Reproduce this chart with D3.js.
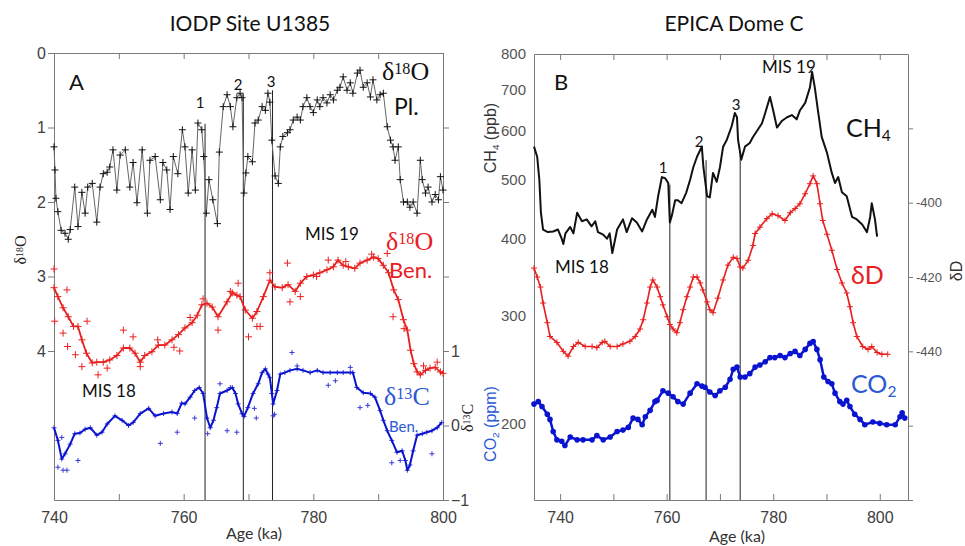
<!DOCTYPE html>
<html>
<head>
<meta charset="utf-8">
<script src="https://cdn.jsdelivr.net/npm/d3@7"></script>
<style>
  body { margin: 0; background: #fff; }
  text { font-family: "Liberation Sans", Arial, sans-serif; }
  .cal { font-family: Lato, "Open Sans", sans-serif; }
  .ser { font-family: "Liberation Serif", "Times New Roman", serif; }
</style>
</head>
<body>
<div id="chart"></div>
<script>
// ---------- Panel A: IODP Site U1385 (age ka, value) ----------
const plankO18 = [
  [740.0,1.26],[740.15,1.57],[740.3,1.95],[740.6,2.13],[741.1,2.38],[741.7,2.42],[742.2,2.5],[742.5,2.37],
  [743.2,1.8],[743.7,2.33],[744.3,1.87],[744.8,2.15],[745.2,1.8],[745.9,1.75],[746.6,2.27],[747.1,1.8],
  [747.6,1.62],[748.2,1.6],[748.6,1.53],[749.1,1.3],[749.7,1.84],[750.2,1.37],[751.0,1.3],[751.7,1.8],
  [752.2,1.47],[752.8,2.01],[753.6,1.3],[754.4,2.15],[754.8,1.44],[755.6,1.39],[756.4,1.97],[756.8,1.47],
  [757.4,1.57],[757.9,2.1],[758.4,1.39],[759.1,1.62],[759.8,1.03],[760.2,1.26],[760.7,1.88],[761.3,1.3],
  [761.8,1.84],[762.2,0.94],[762.8,1.03],[763.1,1.39],[763.5,2.15],[763.9,1.7],[764.5,1.97],[765.2,2.29],
  [765.5,1.33],[766.1,0.72],[766.7,0.56],[767.2,0.72],[767.6,0.99],[768.2,0.6],[768.7,0.54],[769.0,0.6],
  [769.3,1.88],[769.6,1.61],[769.9,1.39],[770.6,1.46],[771.0,0.94],[771.5,0.9],[772.1,0.72],[772.6,0.77],
  [773.0,0.54],[773.3,0.66],[773.6,1.17],[774.1,1.65],[774.6,1.75],[774.9,1.26],[775.3,1.12],[776.0,1.07],
  [776.4,1.03],[776.9,0.9],[777.5,0.86],[778.0,0.9],[778.4,0.72],[779.0,0.6],[779.5,0.72],[780.0,0.8],
  [780.6,0.63],[781.0,0.72],[781.5,0.6],[782.1,0.67],[782.6,0.56],[783.1,0.63],[783.7,0.5],[784.1,0.46],
  [784.6,0.32],[785.2,0.5],[785.7,0.4],[786.1,0.54],[786.8,0.27],[787.2,0.23],[787.7,0.46],[788.3,0.4],
  [788.8,0.59],[789.2,0.36],[789.8,0.63],[790.3,0.56],[790.8,0.54],[791.4,0.99],[791.9,1.17],[792.3,1.26],
  [792.6,1.44],[793.1,1.26],[793.4,1.7],[793.9,2.0],[794.5,2.0],[794.9,2.07],[795.4,2.0],[796.0,2.15],
  [796.5,1.44],[796.8,1.7],[797.3,1.88],[797.7,1.8],[798.3,2.0],[798.8,1.9],[799.3,1.97],[799.6,1.66],[800.0,1.84]
];

const benO18Smooth = [
  [740,3.15],[740.6,3.27],[741.4,3.42],[742.2,3.54],[743,3.67],[743.7,3.67],[744.3,3.85],[745,4.03],
  [745.9,4.16],[746.6,4.15],[747.6,4.15],[748.6,4.12],[749.7,4.06],[750.7,3.96],[751.7,3.96],[752.5,4.03],
  [753.3,4.15],[754.0,4.06],[755.1,4.01],[756.1,3.92],[757.1,3.92],[758.2,3.85],[759.2,3.78],[760.2,3.69],
  [761.3,3.62],[762.1,3.52],[762.8,3.38],[763.6,3.36],[764.4,3.41],[765.3,3.54],[766.7,3.34],[767.5,3.22],
  [768.2,3.25],[768.7,3.27],[769.5,3.45],[770.6,3.56],[771.3,3.47],[772.3,3.27],[773.3,3.05],[774.1,3.14],
  [775.2,3.15],[776.1,3.11],[777.2,3.2],[778.0,3.09],[779.0,3.0],[780.0,2.98],[781.0,2.95],[782.1,2.91],
  [783.1,2.87],[783.8,2.78],[784.6,2.85],[785.4,2.87],[786.4,2.89],[787.2,2.82],[788.3,2.78],[789.3,2.74],
  [790.0,2.76],[790.8,2.85],[791.6,2.95],[792.4,3.18],[793.1,3.31],[793.9,3.58],[794.5,3.72],[795.0,3.99],
  [795.5,4.17],[796.0,4.28],[796.5,4.32],[797.3,4.26],[798.0,4.23],[798.8,4.22],[799.6,4.28],[800,4.3]
];
const benO18Points = [
  [740,2.9],[740.1,3.6],[741.4,3.76],[742.1,3.94],[742.0,3.18],[743.3,4.05],[744.3,4.21],[745.1,3.6],
  [746.8,4.32],[748.2,4.23],[750.7,3.72],[752.2,3.81],[753.3,4.21],[759.4,4.0],[765.3,3.72],[767.2,3.2],
  [768.4,3.09],[770.0,3.81],[771.3,3.67],[771.8,3.67],[776.0,2.82],[776.4,3.34],[778.0,3.27],[782.3,2.78],
  [791.4,2.69],[792.3,3.54],[799.1,4.15],[773.3,2.95],[756.0,3.85],[758.5,3.95],[761.0,3.55],[763.0,3.3],
  [780.5,3.0],[785.0,2.8],[789.0,2.7],[794.0,3.7],[797.0,4.2]
];

const benC13Smooth = [
  [740,-0.03],[740.6,-0.2],[741.2,-0.45],[741.7,-0.38],[742.5,-0.25],[743.2,-0.11],[744,-0.1],[744.8,-0.05],
  [745.6,-0.03],[746.6,-0.13],[747.4,-0.09],[748.2,0.02],[749.4,0.13],[750.5,0.07],[751.5,0.0],[752.2,0.04],
  [753.3,0.16],[754.6,0.23],[755.6,0.13],[756.9,0.16],[758.2,0.18],[759,0.16],[759.7,0.3],[760.2,0.29],
  [761,0.38],[761.7,0.47],[762.4,0.51],[763.0,0.43],[763.6,0.1],[764.1,-0.03],[764.6,0.07],[765.1,0.24],
  [765.6,0.43],[766.7,0.47],[767.5,0.51],[768,0.43],[768.4,0.29],[769,0.16],[769.3,0.12],[769.9,0.24],
  [770.7,0.43],[771.5,0.56],[772.1,0.71],[772.6,0.76],[773.0,0.69],[773.3,0.64],[773.6,0.43],[773.8,0.29],
  [774.4,0.47],[774.9,0.69],[775.6,0.71],[776.4,0.74],[777.5,0.76],[778.4,0.74],[779.5,0.71],[780.6,0.74],
  [781.5,0.71],[782.6,0.71],[783.7,0.71],[784.6,0.71],[785.7,0.71],[786.1,0.71],[786.7,0.51],[787.7,0.44],
  [788.8,0.43],[789.5,0.38],[790.3,0.2],[790.8,0.07],[791.4,-0.07],[792.1,-0.2],[792.9,-0.36],[793.7,-0.34],
  [794.2,-0.47],[794.5,-0.6],[794.9,-0.53],[795.4,-0.34],[796,-0.13],[796.8,-0.11],[797.5,-0.09],[798.3,-0.07],
  [799.1,-0.03],[799.8,0.04]
];
const benC13Points = [
  [740.6,-0.56],[741.4,-0.6],[742.0,-0.6],[743.7,-0.47],[741.2,-0.16],[756.4,-0.24],[759,-0.09],[761.7,0.1],
  [763.7,-0.11],[766.7,-0.07],[768.2,-0.09],[770.9,0.23],[771.2,0.1],[773.8,0.13],[774.0,0.15],[767.2,0.51],
  [765.6,0.56],[776.7,0.98],[777.5,0.8],[782.3,0.54],[783.4,0.6],[785.7,0.78],[787.2,0.24],[788.4,0.27],
  [792.1,-0.5],[793.4,-0.47],[798.3,-0.38]
];

const eventAgesA = [763.3, 769.2, 773.7];
const eventTopsA = [0.95, 0.55, 0.5];
const eventLabels = ['1', '2', '3'];

// ---------- Panel B: EPICA Dome C ----------
const ch4 = [
  [735.1,565],[735.7,544],[736.1,499],[736.4,441],[736.8,414],[737.7,410],[738.7,411],[739.6,414],
  [740.3,400],[740.6,392],[741,408],[741.9,418],[742.5,408],[743.2,441],[744.1,427],[745,430],
  [745.9,419],[746.6,427],[747.1,410],[748.1,406],[748.8,400],[749.3,408],[749.8,379],[750.7,414],
  [751.8,430],[752.5,410],[753.5,432],[754.4,425],[755.4,411],[756.3,430],[757.3,446],[757.8,434],
  [758.4,469],[759.1,504],[759.7,502],[760.3,493],[760.6,425],[761,437],[761.6,462],[762.1,462],
  [762.8,457],[763.7,476],[764.4,499],[765,523],[765.7,544],[766.3,558],[766.6,565],[766.9,523],
  [767.6,469],[768.1,467],[768.7,512],[769.4,495],[770,523],[770.6,565],[771.3,580],[772.2,610],
  [772.8,641],[773.2,631],[773.4,580],[774,538],[774.7,565],[775.6,573],[776.2,586],[777.1,602],
  [777.9,617],[778.5,641],[779.4,681],[780,647],[780.7,607],[781.6,622],[782.6,631],[783.5,636],
  [784.4,626],[785,647],[786,666],[786.9,706],[787.3,748],[787.8,706],[788.4,647],[789.1,586],
  [790.1,552],[791,512],[791.6,493],[792.2,504],[792.9,476],[793.8,469],[794.8,434],[795.7,430],
  [796.7,422],[797.6,410],[798.2,434],[798.5,457],[799.1,430],[799.5,403]
];

const deltaD = [
  [735.1,-417.6],[735.7,-420],[736.3,-422.7],[736.8,-427],[737.6,-432.3],[738.1,-436],[739.4,-437.6],
  [740.6,-440],[741.5,-441.3],[742.5,-438.7],[743.4,-437.6],[744.7,-438.7],[746,-438.7],[746.9,-439],
  [747.9,-437.6],[748.4,-437.3],[749.4,-438.7],[750.7,-438.7],[751.8,-438],[753.1,-437.3],[754.1,-436],
  [755,-434],[755.6,-431.5],[756.3,-427],[756.9,-422.7],[757.4,-420.8],[758.2,-422.7],[758.8,-425.3],
  [759.3,-427.5],[760.1,-430.7],[760.6,-432.8],[761.2,-434],[761.9,-435],[762.5,-432.3],[763.1,-428.8],
  [763.8,-425.3],[764.4,-422.7],[765,-420],[765.7,-420],[766.3,-421.6],[766.8,-423.5],[767.6,-426.7],
  [768.1,-428.8],[768.7,-429.6],[769.6,-425.7],[770.6,-420.8],[771.5,-416.8],[772.5,-414.7],[773.2,-415],
  [773.8,-417.3],[774.3,-417.6],[775.3,-415.5],[776.2,-411.5],[776.6,-408.3],[777.5,-406.6],[778.8,-404.3],
  [779.8,-403],[780.9,-403.5],[782.2,-404.8],[783.2,-402.7],[784.1,-401.6],[785,-400.3],[786,-397.6],
  [786.9,-394.9],[787.5,-392.8],[788.2,-394.9],[788.8,-400.3],[789.3,-404.8],[790.1,-408.5],[791,-412.8],
  [792,-418],[792.9,-421.6],[793.8,-424.3],[794.4,-428],[795,-432.3],[795.7,-436],[796.8,-438.7],
  [797.8,-439.5],[798.5,-438.7],[799.5,-440.3],[800.4,-440.8],[801.5,-440.8]
];

const co2 = [
  [735.1,215],[735.9,217],[736.6,213],[737.6,207],[738.1,203],[738.7,194],[739.4,188],[740.3,187],
  [740.9,184],[741.9,190],[743.2,188],[744.3,188],[746,188],[746.9,191],[748.1,188],[749.4,190],
  [750.7,194],[751.8,195],[752.8,197],[753.7,204],[754.6,203],[755.4,199],[756,205],[756.9,210],
  [757.8,217],[758.2,218],[759.3,226],[760.3,224],[761.2,221],[762.1,217],[763.1,215],[764.4,224],
  [765.7,232],[766.6,230],[767.2,229],[768.1,225],[769.1,222],[770,226],[771,229],[771.9,236],
  [772.5,245],[773.2,247],[773.8,238],[774.7,238],[775.6,241],[776.6,247],[777.5,249],[778.5,252],
  [779.4,256],[780.3,256],[781.3,258],[782.2,256],[783.2,260],[784.1,262],[785,258],[786,264],
  [786.9,270],[787.5,272],[788.2,264],[788.8,254],[789.5,238],[790.3,234],[791,232],[791.6,224],
  [792.5,217],[793.1,215],[793.8,218],[794.4,213],[795.3,207],[796.3,203],[797.2,199],[798.7,201],
  [800,200],[801.3,199],[802.9,199],[803.8,205],[804.2,208],[804.7,204]
];

const eventAgesB = [760.6, 767.4, 773.8];
const eventTopsB = [490, 537, 548];

const ageTicks = [740, 750, 760, 770, 780, 790, 800];
const o18Ticks = [0, 1, 2, 3, 4];
const c13Ticks = [-1, 0, 1, 2, 3, 4];
const ch4Ticks = [200, 300, 400, 500, 600, 700, 800];
const dTicks = [-480, -460, -440, -420, -400, -380];

// ---------- setup ----------
const W = 965, H = 546;
const RED = '#e8201f', BLUE = '#0a14cf', BLUE_TXT = '#2a58d6', AX = '#7a7a7a', TXT = '#404040';

const svg = d3.select('#chart').append('svg')
    .attr('width', W)
    .attr('height', H);

const xA = d3.scaleLinear().domain([740, 800]).range([54, 443]);
const yA = d3.scaleLinear().domain([0, 6]).range([53, 500]);
const yAc = d3.scaleLinear().domain([-1, 5]).range([500, 53]);

const xB = d3.scaleLinear().domain([735.1, 805.3]).range([534, 908]);
const yCH = d3.scaleLog().domain([150, 800]).range([500, 54]);
const yD = d3.scaleLinear().domain([-480, -360]).range([500, 54]);

function styleAxis(g, size) {
    g.attr('color', AX);
    g.selectAll('text').attr('fill', TXT).style('font-size', size + 'px');
}

function plusMarks(g, data, x, y, s, color, w) {
    g.append('path')
        .attr('d', data.map(d => {
            let px = x(d[0]), py = y(d[1]);
            return `M${px - s},${py}H${px + s}M${px},${py - s}V${py + s}`;
        }).join(''))
        .attr('stroke', color)
        .attr('stroke-width', w)
        .attr('fill', 'none');
}

function drawLine(g, data, x, y, color, w) {
    g.append('path')
        .datum(data)
        .attr('d', d3.line().x(d => x(d[0])).y(d => y(d[1])))
        .attr('fill', 'none')
        .attr('stroke', color)
        .attr('stroke-width', w)
        .attr('stroke-linejoin', 'round');
}

function label(x, y, parts, opts) {
    let t = svg.append('text')
        .attr('x', x).attr('y', y)
        .attr('fill', opts.color || '#111')
        .style('font-size', opts.size + 'px')
        .attr('text-anchor', opts.anchor || 'start');
    if (opts.cls) t.attr('class', opts.cls);
    if (opts.rotate) t.attr('transform', `rotate(-90, ${x}, ${y})`);
    parts.forEach(p => {
        let s = t.append('tspan').text(p.t);
        if (p.sup) s.attr('baseline-shift', '35%').style('font-size', (opts.size * 0.62) + 'px');
        if (p.sub) s.attr('baseline-shift', '-25%').style('font-size', (opts.size * 0.62) + 'px');
    });
    return t;
}

// ---------- Panel A ----------
let gA = svg.append('g');

gA.append('g').attr('transform', 'translate(0,53)')
    .call(d3.axisBottom(xA).tickValues(ageTicks).tickSize(6).tickSizeOuter(0).tickFormat(''))
    .call(g => styleAxis(g, 16));
gA.append('g').attr('transform', 'translate(0,500)')
    .call(d3.axisBottom(xA).tickValues(ageTicks).tickSize(-6).tickSizeOuter(0).tickPadding(12)
        .tickFormat(d => d % 20 === 0 ? d : ''))
    .call(g => styleAxis(g, 16));
gA.append('g').attr('transform', 'translate(54,0)')
    .call(d3.axisLeft(yA).tickValues(o18Ticks).tickSize(6).tickSizeOuter(0).tickPadding(2)
        .tickFormat(d3.format('d')))
    .call(g => styleAxis(g, 16));
gA.append('g').attr('transform', 'translate(443,0)')
    .call(d3.axisRight(yAc).tickValues(c13Ticks).tickSize(6).tickSizeOuter(0).tickPadding(2)
        .tickFormat(d => d <= 1 ? d3.format('d')(d) : ''))
    .call(g => styleAxis(g, 16));

eventAgesA.forEach((a, i) => {
    gA.append('line')
        .attr('x1', xA(a)).attr('x2', xA(a))
        .attr('y1', yA(eventTopsA[i])).attr('y2', yA.range()[1])
        .attr('stroke', '#222').attr('stroke-width', 1);
});

drawLine(gA, plankO18, xA, yA, '#666', 1);
plusMarks(gA, plankO18, xA, yA, 3.5, '#111', 1);

plusMarks(gA, benO18Smooth.concat(benO18Points), xA, yA, 3.5, RED, 1);
drawLine(gA, benO18Smooth, xA, yA, RED, 1.8);

plusMarks(gA, benC13Smooth.concat(benC13Points), xA, yAc, 2.5, '#3a3ad8', 1);
drawLine(gA, benC13Smooth, xA, yAc, BLUE, 2);

// ---------- Panel B ----------
let gB = svg.append('g');

gB.append('g').attr('transform', 'translate(0,54)')
    .call(d3.axisBottom(xB).tickValues(ageTicks).tickSize(6).tickSizeOuter(0).tickFormat(''))
    .call(g => styleAxis(g, 16));
gB.append('g').attr('transform', 'translate(0,500)')
    .call(d3.axisBottom(xB).tickValues(ageTicks).tickSize(-6).tickSizeOuter(0).tickPadding(12)
        .tickFormat(d => d % 20 === 0 ? d : ''))
    .call(g => styleAxis(g, 16));
gB.append('g').attr('transform', 'translate(534,0)')
    .call(d3.axisLeft(yCH).tickValues(ch4Ticks).tickSize(0).tickSizeOuter(0).tickPadding(8)
        .tickFormat(d3.format('d')))
    .call(g => styleAxis(g, 15))
    .call(g => g.selectAll('text').attr('fill', '#555'));
gB.append('g').attr('transform', 'translate(908,0)')
    .call(d3.axisRight(yD).tickValues(dTicks).tickSize(5).tickSizeOuter(0).tickPadding(3)
        .tickFormat(d => (d >= -440 && d <= -400) ? d : ''))
    .call(g => styleAxis(g, 13))
    .call(g => g.selectAll('text').attr('fill', '#555'));

eventAgesB.forEach((a, i) => {
    gB.append('line')
        .attr('x1', xB(a)).attr('x2', xB(a))
        .attr('y1', yCH(eventTopsB[i])).attr('y2', 500)
        .attr('stroke', '#222').attr('stroke-width', 1);
});

drawLine(gB, ch4, xB, yCH, '#111', 2);

drawLine(gB, deltaD, xB, yD, RED, 1.6);
plusMarks(gB, deltaD, xB, yD, 3, RED, 1);

drawLine(gB, co2, xB, yCH, BLUE, 2.5);
gB.append('g').selectAll('circle')
    .data(co2)
    .join('circle')
    .attr('cx', d => xB(d[0]))
    .attr('cy', d => yCH(d[1]))
    .attr('r', 2.8)
    .attr('fill', BLUE);

// ---------- text ----------
label(250, 31, [{t: 'IODP Site U1385'}], {size: 21, anchor: 'middle', cls: 'cal', color: '#111'});
label(734, 31, [{t: 'EPICA Dome C'}], {size: 21, anchor: 'middle', cls: 'cal', color: '#111'});

label(254, 539, [{t: 'Age (ka)'}], {size: 16, anchor: 'middle', cls: 'cal', color: '#333'});
label(737, 542, [{t: 'Age (ka)'}], {size: 16, anchor: 'middle', cls: 'cal', color: '#333'});

label(69, 90, [{t: 'A'}], {size: 22, cls: 'cal'});
label(554, 90, [{t: 'B'}], {size: 22, cls: 'cal'});

label(382, 80, [{t: 'δ'}, {t: '18', sup: true}, {t: 'O'}], {size: 26, cls: 'ser'});
label(394, 115, [{t: 'Pl.'}], {size: 23, cls: 'cal'});
label(386, 250, [{t: 'δ'}, {t: '18', sup: true}, {t: 'O'}], {size: 26, cls: 'ser', color: RED});
label(389, 278, [{t: 'Ben.'}], {size: 22, cls: 'cal', color: RED});
label(384, 405, [{t: 'δ'}, {t: '13', sup: true}, {t: 'C'}], {size: 26, cls: 'ser', color: BLUE_TXT});
label(389, 432, [{t: 'Ben.'}], {size: 15, cls: 'cal', color: BLUE_TXT});

label(305, 240, [{t: 'MIS 19'}], {size: 17, cls: 'cal'});
label(82, 397, [{t: 'MIS 18'}], {size: 17, cls: 'cal'});
[[200, 108], [238, 90], [271, 87]].forEach((p, i) =>
    label(p[0], p[1], [{t: eventLabels[i]}], {size: 15, anchor: 'middle', cls: 'cal'}));

label(26, 250, [{t: 'δ'}, {t: '18', sup: true}, {t: 'O'}], {size: 16, cls: 'ser', anchor: 'middle', rotate: true, color: '#222'});
label(473, 418, [{t: 'δ'}, {t: '13', sup: true}, {t: 'C'}], {size: 16, cls: 'ser', anchor: 'middle', rotate: true, color: '#222'});

label(496, 138, [{t: 'CH'}, {t: '4', sub: true}, {t: ' (ppb)'}], {size: 16, anchor: 'middle', rotate: true, color: '#333'});
label(496, 424, [{t: 'CO'}, {t: '2', sub: true}, {t: ' (ppm)'}], {size: 16, anchor: 'middle', rotate: true, color: BLUE_TXT});
label(962, 271, [{t: 'δD'}], {size: 16, anchor: 'middle', rotate: true, color: '#333'});

label(762, 73, [{t: 'MIS 19'}], {size: 17, cls: 'cal'});
label(555, 273, [{t: 'MIS 18'}], {size: 17, cls: 'cal'});
[[663, 173], [699, 147], [736, 110]].forEach((p, i) =>
    label(p[0], p[1], [{t: eventLabels[i]}], {size: 15, anchor: 'middle', cls: 'cal'}));

label(846, 137, [{t: 'CH'}, {t: '4', sub: true}], {size: 25, cls: 'cal'});
label(851, 284, [{t: 'δD'}], {size: 25, cls: 'cal', color: RED});
label(851, 393, [{t: 'CO'}, {t: '2', sub: true}], {size: 25, cls: 'cal', color: BLUE_TXT});
</script>
</body>
</html>
